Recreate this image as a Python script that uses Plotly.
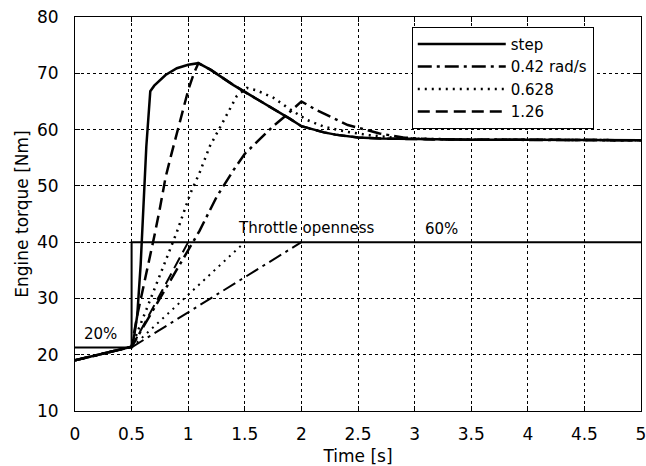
import plotly.graph_objects as go

# ---------------- data ----------------
# Torque responses (Nm) vs time (s)
t_step = [0, 0.5, 0.52, 0.55, 0.58, 0.6, 0.63, 0.665, 0.7, 0.8, 0.9, 1.0, 1.09, 1.2, 1.3, 1.4, 1.5,
          1.6, 1.7, 1.8, 1.9, 2.0, 2.1, 2.2, 2.3, 2.4, 2.5, 2.7, 3.0, 3.5, 4.0, 5.0]
v_step = [19.0, 21.4, 23.0, 27.0, 36.0, 45.0, 57.0, 66.8, 67.8, 69.7, 70.9, 71.5, 71.8, 70.6, 69.2, 67.9, 66.7,
          65.5, 64.4, 63.2, 61.9, 60.6, 60.0, 59.5, 59.1, 58.8, 58.6, 58.4, 58.3, 58.2, 58.2, 58.1]

t_126 = [0, 0.5, 0.55, 0.6, 0.65, 0.7, 0.75, 0.8, 0.85, 0.9, 0.95, 1.0, 1.05, 1.09, 1.2, 1.3, 1.4, 1.5,
         1.6, 1.7, 1.8, 1.9, 2.0, 2.1, 2.2, 2.3, 2.4, 2.5, 2.7, 3.0, 3.5, 4.0, 5.0]
v_126 = [19.0, 21.4, 27.0, 31.5, 36.0, 41.0, 46.0, 51.5, 55.5, 59.5, 63.5, 67.0, 70.0, 71.8, 70.6, 69.2, 67.9, 66.7,
         65.5, 64.4, 63.2, 61.9, 60.6, 60.0, 59.5, 59.1, 58.8, 58.6, 58.4, 58.3, 58.2, 58.2, 58.1]

t_0628 = [0, 0.5, 0.63, 0.68, 0.78, 0.9, 1.02, 1.1, 1.19, 1.28, 1.34, 1.43, 1.52, 1.6, 1.75, 1.9, 2.05,
          2.2, 2.4, 2.6, 2.8, 3.0, 3.5, 4.0, 5.0]
v_0628 = [19.0, 21.4, 28.0, 30.5, 35.6, 41.8, 48.7, 52.3, 57.0, 60.5, 62.6, 66.0, 67.4, 67.0, 65.7, 63.6, 61.7,
          60.5, 59.6, 59.0, 58.6, 58.4, 58.2, 58.2, 58.1]

t_042 = [0, 0.5, 0.75, 1.0, 1.1, 1.25, 1.4, 1.5, 1.63, 1.75, 1.87, 2.0, 2.13, 2.28, 2.41, 2.58, 2.69,
         2.9, 3.1, 3.5, 4.0, 5.0]
v_042 = [19.0, 21.4, 30.0, 38.5, 42.0, 48.0, 52.8, 55.7, 58.3, 60.6, 62.6, 65.0, 63.5, 62.0, 60.8, 59.9, 59.3,
         58.6, 58.3, 58.2, 58.2, 58.1]

# Throttle openness signals (plotted on torque scale)
th_step_t = [0, 0.5, 0.5, 5.0]
th_step_v = [21.3, 21.3, 40.0, 40.0]
th_126_t = [0.5, 1.0]
th_126_v = [21.3, 40.0]
th_0628_t = [0.5, 1.5]
th_0628_v = [21.3, 40.0]
th_042_t = [0.5, 2.0]
th_042_v = [21.3, 40.0]

names = ["step", "0.42 rad/s", "0.628", "1.26"]

x_ticks = [0, 0.5, 1, 1.5, 2, 2.5, 3, 3.5, 4, 4.5, 5]
x_ticklabels = ["0", "0.5", "1", "1.5", "2", "2.5", "3", "3.5", "4", "4.5", "5"]
y_ticks = [10, 20, 30, 40, 50, 60, 70, 80]

# ---------------- styles ----------------
DASH_SOLID = "solid"
DASH_DASHDOT = "14px,5px,3px,5px"
DASH_DOT = "2px,5px"
DASH_DASH = "12px,6px"

fig = go.Figure()

def add(t, v, name, dash, width, show):
    fig.add_trace(go.Scatter(
        x=t, y=v, mode="lines", name=name, showlegend=show,
        legendgroup=name,
        line=dict(color="black", width=width, dash=dash),
    ))

# throttle signals
add(th_step_t, th_step_v, names[0], DASH_SOLID, 2, False)
add(th_042_t, th_042_v, names[1], DASH_DASHDOT, 2, False)
add(th_0628_t, th_0628_v, names[2], DASH_DOT, 2, False)
add(th_126_t, th_126_v, names[3], DASH_DASH, 2, False)

# torque responses
add(t_step, v_step, names[0], DASH_SOLID, 2.5, True)
add(t_042, v_042, names[1], DASH_DASHDOT, 2.5, True)
add(t_0628, v_0628, names[2], DASH_DOT, 2.5, True)
add(t_126, v_126, names[3], DASH_DASH, 2.5, True)

fig.add_annotation(x=1.42, y=42.6, text="Throttle openness", showarrow=False,
                   xanchor="left", yanchor="middle", font=dict(size=15, color="black"))
fig.add_annotation(x=3.07, y=42.4, text="60%", showarrow=False,
                   xanchor="left", yanchor="middle", font=dict(size=15, color="black"))
fig.add_annotation(x=0.06, y=23.6, text="20%", showarrow=False,
                   xanchor="left", yanchor="middle", font=dict(size=15, color="black"))

axis_common = dict(
    showgrid=True, gridcolor="black", gridwidth=1, griddash="dot",
    showline=True, linecolor="black", linewidth=1, mirror="allticks",
    ticks="inside", ticklen=5, tickcolor="black", tickwidth=1,
    zeroline=False, tickfont=dict(size=17, color="black"),
    layer="below traces", automargin=False,
)

fig.update_xaxes(range=[0, 5], tickvals=x_ticks, ticktext=x_ticklabels,
                 title=dict(text="Time [s]", font=dict(size=17, color="black"), standoff=6),
                 ticklabelstandoff=8, ticklabeloverflow="allow", **axis_common)
fig.update_yaxes(range=[10, 80], tickvals=y_ticks,
                 title=dict(text="Engine torque [Nm]", font=dict(size=17, color="black"), standoff=4),
                 ticklabelstandoff=12, **axis_common)

fig.update_layout(
    width=646, height=466,
    margin=dict(l=75, r=5, t=17, b=55),
    paper_bgcolor="white", plot_bgcolor="white",
    font=dict(family="DejaVu Sans", color="black", size=16),
    legend=dict(x=0.595, y=0.975, xanchor="left", yanchor="top",
                bgcolor="white", bordercolor="black", borderwidth=1,
                font=dict(size=15, color="black"), itemwidth=88,
                tracegroupgap=0),
)

fig.write_html("out.html")
